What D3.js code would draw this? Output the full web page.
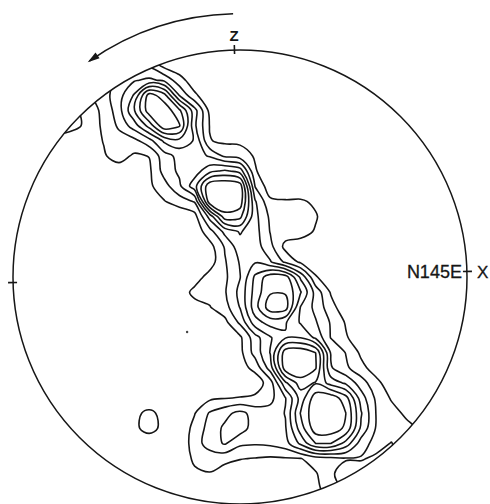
<!DOCTYPE html>
<html>
<head>
<meta charset="utf-8">
<script src="https://cdn.jsdelivr.net/npm/d3@7"></script>
<style>
  html, body { margin: 0; background: #fff; }
  svg { display: block; }
</style>
</head>
<body>
<svg id="net" width="490" height="504"></svg>
<script>
// Pole density on the lower hemisphere, sampled on a 31 x 31 grid.
// Node (i, j) sits at x = -1 + i/15, y = 1 - j/15 in net-radius units (row 0 = north edge).
const densityRows = [
  [0,0,0,0,0,0,0,0.8,0.9,0.8,0,0,0,0,0,0,0,0,0,0,0,0,0,0,0,0,0,0,0,0,0],
  [0,0,0,0,0,0,1.0,1.6,1.9,1.8,0.6,0.3,0,0,0,0,0,0,0,0,0,0,0,0,0,0,0,0,0,0,0],
  [0,0,0,0,0,0.8,1.5,2.2,2.9,3.2,2.8,1.4,0.4,0,0,0,0,0,0,0,0,0,0,0,0,0,0,0,0,0,0],
  [0,0,0,0,0.5,0.8,1.6,2.6,4.1,7.5,6.4,2.95,1.2,0.3,0,0,0,0,0,0,0,0,0,0,0,0,0,0,0,0,0],
  [0,0,0,0.8,1.2,0.6,1.2,2.6,4.9,7.6,7.7,6.2,3.4,0.7,0,0,0,0,0,0,0,0,0,0,0,0,0,0,0,0,0],
  [0,0,0,1.5,1.3,0.7,1.1,2.2,3.5,5.4,7.8,7.1,3.2,0.95,0.2,0,0,0,0,0,0,0,0,0,0,0,0,0,0,0,0],
  [0,0,0,0.5,0.3,0.5,1.05,1.5,1.7,2.6,4.2,4.7,3.9,1.05,0.8,0.8,0.3,0,0,0,0,0,0,0,0,0,0,0,0,0,0],
  [0,0,0,0,0,0.3,0.9,1.4,0.85,1.03,2.6,3.3,3.4,2.9,1.8,1.5,0.9,0.2,0,0,0,0,0,0,0,0,0,0,0,0,0],
  [0,0,0,0,0,0,0.2,0.5,0.4,0.8,2.4,3.2,3.5,4.7,5.2,4.6,1.1,0.3,0,0,0,0,0,0,0,0,0,0,0,0,0],
  [0,0,0,0,0,0,0,0,0.2,0.8,1.6,2.8,4.6,7.8,8.0,7.6,1.95,0.4,0.2,0.1,0,0,0,0,0,0,0,0,0,0,0],
  [0,0,0,0,0,0,0,0,0,0.3,0.95,1.5,2.1,7.7,8.0,7.6,3.1,1.2,1.1,1.15,0.8,0.2,0,0,0,0,0,0,0,0,0],
  [0,0,0,0,0,0,0,0,0,0,0,0.2,0.6,3.4,6.6,6.3,3.3,1.8,1.5,1.5,1.1,0.3,0,0,0,0,0,0,0,0,0],
  [0,0,0,0,0,0,0,0,0,0,0,0,0.3,1.6,3.3,4.1,3.4,1.95,1.5,1.4,0.9,0.2,0,0,0,0,0,0,0,0,0],
  [0,0,0,0,0,0,0,0,0,0,0,0,0,0.6,2.1,3.6,3.5,2.3,0.7,0.5,0.3,0,0,0,0,0,0,0,0,0,0],
  [0,0,0,0,0,0,0,0,0,0,0,0,0,0.5,1.9,3.1,3.9,3.1,1.8,0.8,0.3,0,0,0,0,0,0,0,0,0,0],
  [0,0,0,0,0,0,0,0,0,0,0,0,0.5,1.4,1.8,2.95,5.2,6.6,6.5,3.8,1.1,0.3,0,0,0,0,0,0,0,0,0],
  [0,0,0,0,0,0,0,0,0,0,0,0.4,1.3,1.35,1.9,3.3,5.4,6.9,6.9,5.1,2.6,0.9,0.2,0,0,0,0,0,0,0,0],
  [0,0,0,0,0,0,0,0,0,0,0,0,0.6,0.95,1.6,3.05,5.6,7.6,7.5,3.95,2.7,1.4,0.3,0,0,0,0,0,0,0,0],
  [0,0,0,0,0,0,0,0,0,0,0,0,0,0,0.7,2.2,4.6,5.4,5.1,3.9,3.1,1.9,0.9,0.2,0,0,0,0,0,0,0],
  [0,0,0,0,0,0,0,0,0,0,0,0,0,0,0,0.8,2.6,3.9,4.9,4.95,3.8,1.95,1.1,0.4,0,0,0,0,0,0,0],
  [0,0,0,0,0,0,0,0,0,0,0,0,0,0,0,0.7,2.4,4.05,7.6,7.8,7.0,2.9,1.95,0.8,0.2,0,0,0,0,0,0],
  [0,0,0,0,0,0,0,0,0,0,0,0,0,0,0,0.6,1.3,3.5,7.6,7.9,7.1,3.1,2.2,1.3,0.5,0,0,0,0,0,0],
  [0,0,0,0,0,0,0,0,0,0,0,0,0,0,0,0.3,0.4,1.5,4.8,6.5,5.9,4.6,3.8,2.5,1.3,0.4,0,0,0,0,0],
  [0,0,0,0,0,0,0,0,0,0.5,0,0,0.2,0.8,0.95,1.05,1.2,1.7,2.95,5.4,7.6,7.7,6.4,3.5,1.8,0.9,0.3,0,0,0,0],
  [0,0,0,0,0,0,0,0,0.85,1.15,0.8,0.2,0.95,2.1,2.7,3.3,2.6,2.4,3.05,6.05,7.8,7.9,7.0,4.1,1.95,1.4,0.8,0.2,0,0,0],
  [0,0,0,0,0,0,0,0,0.85,1.25,0.8,0.3,1.3,2.4,3.2,3.5,2.5,2.3,2.9,5.5,7.6,7.6,6.8,3.8,1.9,1.5,1.3,0.8,0.3,0,0],
  [0,0,0,0,0,0,0,0,0,0.5,0,0.2,1.5,2.5,3.1,2.2,2.1,2.2,2.6,4.2,6.0,6.0,4.6,2.5,1.6,2.05,1.3,0.9,0.3,0,0],
  [0,0,0,0,0,0,0,0,0,0,0,0.3,1.2,1.4,1.3,1.05,0.95,0.85,0.9,0.95,1.5,1.7,1.9,1.9,2.2,2.1,1.5,0.9,0.3,0,0],
  [0,0,0,0,0,0,0,0,0,0,0,0,0.8,0.95,0.5,0.3,0.2,0.2,0.3,0.5,0.9,1.8,2.6,2.6,2.4,1.5,0.8,0,0,0,0],
  [0,0,0,0,0,0,0,0,0,0,0,0,0,0,0,0,0,0,0,0,0.8,1.4,2.2,1.8,1.0,0,0,0,0,0,0],
  [0,0,0,0,0,0,0,0,0,0,0,0,0,0,0,0,0,0,0,0,0,1.0,1.2,0.8,0,0,0,0,0,0,0]
];
const gridStep = 1 / 15;                 // node spacing in net-radius units
const contourLevels = [1, 2, 3, 4, 5, 6, 7];

// A lone pole plotted outside the contoured band (net-radius units).
const strayPoles = [[-0.233, -0.242]];

// Primitive-circle ticks: azimuth in degrees, with their labels.
const axisTicks = [
  { azimuth: 0,   label: "Z",     side: "outer" },
  { azimuth: 90,  label: "N145E", side: "inner", extra: "X" },
  { azimuth: 270, label: null }
];
const frameRotation = -1.4;              // degrees, the net is turned slightly anticlockwise
const senseArc = { from: -1.5, to: -34.9, radius: 1.16 }; // sense-of-rotation arrow

// ---- layout ----
const cx = 240, cy = 277, R = 227;
const svg = d3.select("#net");
const x = d3.scaleLinear().domain([-1, 1]).range([cx - R, cx + R]);
const y = d3.scaleLinear().domain([-1, 1]).range([cy + R, cy - R]);
const ink = "#161616";

const nCols = densityRows[0].length, nRows = densityRows.length;
const values = densityRows.flat();

svg.append("defs").append("clipPath").attr("id", "primitive")
  .append("circle").attr("cx", cx).attr("cy", cy).attr("r", R);

// contour rings from the density grid
const contourGen = d3.contours().size([nCols, nRows]).thresholds(contourLevels);
const toPixel = ([gx, gy]) => [x(-1 + (gx - 0.5) * gridStep), y(1 - (gy - 0.5) * gridStep)];
const ringLine = d3.line().curve(d3.curveCatmullRomClosed.alpha(0.5));

const rings = [];
contourGen(values).forEach(level => {
  level.coordinates.forEach(polygon => {
    polygon.forEach(ring => {
      rings.push({ level: level.value, pts: ring.slice(0, -1).map(toPixel) });
    });
  });
});

svg.append("g").attr("clip-path", "url(#primitive)")
  .selectAll("path").data(rings).join("path")
  .attr("d", d => ringLine(d.pts))
  .attr("fill", "none")
  .attr("stroke", ink)
  .attr("stroke-width", 1.6)
  .attr("stroke-linejoin", "round");

// primitive circle
svg.append("circle").attr("cx", cx).attr("cy", cy).attr("r", R)
  .attr("fill", "none").attr("stroke", ink).attr("stroke-width", 1.5);

// stray poles
svg.selectAll(".pole").data(strayPoles).join("circle")
  .attr("class", "pole")
  .attr("cx", d => x(d[0])).attr("cy", d => y(d[1])).attr("r", 1.2)
  .attr("fill", "#444");

// ticks and labels
const polar = (az, r) => {
  const a = (az + frameRotation) * Math.PI / 180;
  return [cx + r * Math.sin(a), cy - r * Math.cos(a)];
};
const font = "'Liberation Sans', Arial, Helvetica, sans-serif";
axisTicks.forEach(t => {
  const [x0, y0] = polar(t.azimuth, R - 4);
  const [x1, y1] = polar(t.azimuth, R + 5);
  svg.append("line").attr("x1", x0).attr("y1", y0).attr("x2", x1).attr("y2", y1)
    .attr("stroke", ink).attr("stroke-width", 1.6);
  if (!t.label) return;
  if (t.side === "outer") {
    const [lx, ly] = polar(t.azimuth, R + 14);
    svg.append("text").attr("x", lx).attr("y", ly + 5)
      .attr("text-anchor", "middle")
      .attr("font-family", font).attr("font-weight", "bold").attr("font-size", 15)
      .attr("fill", ink).text(t.label);
  } else {
    svg.append("text").attr("x", x0 - 1).attr("y", y0 + 6.5)
      .attr("text-anchor", "end")
      .attr("font-family", font).attr("font-size", 18).attr("fill", ink)
      .attr("stroke", ink).attr("stroke-width", 0.3)
      .text(t.label);
    if (t.extra) {
      svg.append("text").attr("x", x1 + 5).attr("y", y0 + 6.5)
        .attr("text-anchor", "start")
        .attr("font-family", font).attr("font-size", 17).attr("fill", ink)
        .attr("stroke", ink).attr("stroke-width", 0.3)
        .text(t.extra);
    }
  }
});

// sense-of-rotation arrow outside the primitive
const arcR = R * senseArc.radius;
const toCanvas = az => (az - 90) * Math.PI / 180;
const p = d3.path();
const [sx, sy] = [cx + arcR * Math.sin(senseArc.from * Math.PI / 180), cy - arcR * Math.cos(senseArc.from * Math.PI / 180)];
p.moveTo(sx, sy);
p.arc(cx, cy, arcR, toCanvas(senseArc.from), toCanvas(senseArc.to), true);
svg.append("path").attr("d", p.toString())
  .attr("fill", "none").attr("stroke", ink).attr("stroke-width", 1.6);

const endA = senseArc.to * Math.PI / 180;
const ex = cx + arcR * Math.sin(endA), ey = cy - arcR * Math.cos(endA);
const tx = -Math.cos(endA), ty = -Math.sin(endA);   // direction of travel at the arrow tip
const nx = -ty, ny = tx;
const tipX = ex + tx * 2, tipY = ey + ty * 2;
const bx = tipX - tx * 12, by = tipY - ty * 12;
svg.append("path")
  .attr("d", `M${tipX},${tipY}L${bx + nx * 3.5},${by + ny * 3.5}L${bx - nx * 3.5},${by - ny * 3.5}Z`)
  .attr("fill", ink);
</script>
</body>
</html>
